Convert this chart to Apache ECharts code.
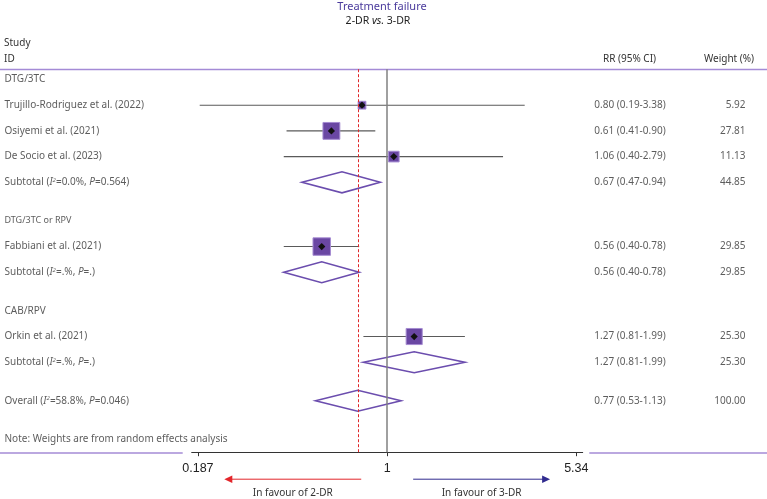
<!DOCTYPE html>
<html><head><meta charset="utf-8">
<script src="https://cdn.jsdelivr.net/npm/echarts@6/dist/echarts.min.js"></script>
<style>html,body{margin:0;padding:0;background:#fff}#c{width:767px;height:499px}</style>
</head><body><div id="c"></div>
<script>
// ---------- data ----------
const rowLabels = [
  'DTG/3TC',
  'Trujillo-Rodriguez et al. (2022)',
  'Osiyemi et al. (2021)',
  'De Socio et al. (2023)',
  'Subtotal (I²=0.0%, P=0.564)',
  'DTG/3TC or RPV',
  'Fabbiani et al. (2021)',
  'Subtotal (I²=.%, P=.)',
  'CAB/RPV',
  'Orkin et al. (2021)',
  'Subtotal (I²=.%, P=.)',
  'Overall (I²=58.8%, P=0.046)',
  'Note: Weights are from random effects analysis'
];
const rowTypes = ['group','study','study','study','subtotal','group2','study','subtotal','group','study','subtotal','overall','note'];
const rr      = [null, 0.80, 0.61, 1.06, 0.67, null, 0.56, 0.56, null, 1.27, 1.27, 0.77, null];
const ciLow   = [null, 0.19, 0.41, 0.40, 0.47, null, 0.40, 0.40, null, 0.81, 0.81, 0.53, null];
const ciHigh  = [null, 3.38, 0.90, 2.79, 0.94, null, 0.78, 0.78, null, 1.99, 1.99, 1.13, null];
const weights = [null, 5.92, 27.81, 11.13, 44.85, null, 29.85, 29.85, null, 25.30, 25.30, 100.00, null];
const tickValues = [0.187, 1, 5.34];
const xRange = [0.177, 5.65];
const titleText = 'Treatment failure';
const subtitleText = '2-DR {i|vs.} 3-DR';
const headers = {study: 'Study', id: 'ID', rr: 'RR (95% CI)', weight: 'Weight (%)'};
const favourLabels = ['In favour of 2-DR', 'In favour of 3-DR'];

// ---------- layout ----------
const FONT = '"Noto Sans", Roboto, sans-serif';
const TXT = '#333';
const PURPLE = '#6b4dae';
const LINEP = '#a48bd6';
const yMin = -0.4, yMax = 14.5;
const gridTop = 69.2, gridBottom = 46.8;

// row slots: one unit per row, half-row gap after subtotals / overall
const yIdx = [];
(function(){ let y = 0; rowTypes.forEach(t => { yIdx.push(y); y += (t === 'subtotal' || t === 'overall') ? 1.5 : 1; }); })();

const ln = Math.log;
function richLabel(s){
  return s.replace('I²', '{i|I}{s|2}').replace('P=', '{i|P}=');
}

const yAxes = [0,1,2,3].map(g => ({gridIndex: g, type: 'value', min: yMin, max: yMax, inverse: true, show: false}));
const grids = [
  {left: 4, width: 180, top: gridTop, bottom: gridBottom},
  {left: 191.7, right: 184.3, top: gridTop, bottom: gridBottom},
  {left: 590, width: 80, top: gridTop, bottom: gridBottom},
  {left: 700, width: 46, top: gridTop, bottom: gridBottom}
];
const hiddenX = g => ({gridIndex: g, type: 'value', min: 0, max: 1, show: false});

const studyIdx = rowTypes.map((t,i)=>t==='study'?i:-1).filter(i=>i>=0);
const pooledIdx = rowTypes.map((t,i)=>(t==='subtotal'||t==='overall')?i:-1).filter(i=>i>=0);
const valIdx = rr.map((v,i)=>v==null?-1:i).filter(i=>i>=0);
const overallIdx = rowTypes.indexOf('overall');

const richStyles = {
  i: {fontStyle: 'italic', fontSize: 10, fontFamily: FONT, color: TXT},
  s: {fontStyle: 'italic', fontSize: 6, fontFamily: FONT, color: TXT, verticalAlign: 'top'}
};

const option = {
  animation: false,
  grid: grids,
  xAxis: [
    hiddenX(0),
    {
      gridIndex: 1, type: 'value', min: ln(xRange[0]), max: ln(xRange[1]),
      splitLine: {show: false},
      axisLine: {show: true, onZero: false, lineStyle: {color: '#333', width: 1}},
      axisTick: {show: true, customValues: tickValues.map(ln), length: 4, lineStyle: {color: '#333'}},
      axisLabel: {
        show: true, customValues: tickValues.map(ln), margin: 10,
        fontSize: 12.5, color: '#222', fontFamily: '"Liberation Sans", Arial, sans-serif',
        formatter: v => String(Number(Math.exp(v).toPrecision(3)))
      }
    },
    hiddenX(2), hiddenX(3)
  ],
  yAxis: yAxes,
  series: [
    // row labels
    {
      type: 'scatter', xAxisIndex: 0, yAxisIndex: 0, silent: true, symbolSize: 1,
      itemStyle: {color: 'rgba(0,0,0,0)'},
      data: rowLabels.map((l,i) => ({
        value: [0, yIdx[i]],
        label: rowTypes[i] === 'group2' ? {fontSize: 9} : {}
      })),
      label: {
        show: true, position: 'right', distance: 0, fontSize: 10, fontFamily: FONT, color: TXT,
        formatter: p => richLabel(rowLabels[p.dataIndex]), rich: richStyles
      }
    },
    // RR column
    {
      type: 'scatter', xAxisIndex: 2, yAxisIndex: 2, silent: true, symbolSize: 1,
      itemStyle: {color: 'rgba(0,0,0,0)'},
      data: valIdx.map(i => [0.5, yIdx[i], i]),
      label: {
        show: true, position: 'inside', fontSize: 10, fontFamily: FONT, color: TXT,
        formatter: p => { const i = p.value[2]; return rr[i].toFixed(2) + ' (' + ciLow[i].toFixed(2) + '-' + ciHigh[i].toFixed(2) + ')'; }
      }
    },
    // weight column
    {
      type: 'scatter', xAxisIndex: 3, yAxisIndex: 3, silent: true, symbolSize: 1,
      itemStyle: {color: 'rgba(0,0,0,0)'},
      data: valIdx.map(i => [1, yIdx[i], i]),
      label: {
        show: true, position: 'left', distance: 0, fontSize: 10, fontFamily: FONT, color: TXT,
        formatter: p => weights[p.value[2]].toFixed(2)
      }
    },
    // reference lines
    {
      type: 'line', xAxisIndex: 1, yAxisIndex: 1, data: [], silent: true, z: 1,
      markLine: {
        silent: true, symbol: ['none','none'], label: {show: false}, animation: false,
        data: [
          {xAxis: 0, lineStyle: {color: '#808080', width: 1.5, type: 'solid'}},
          {xAxis: ln(rr[overallIdx]), lineStyle: {color: '#e0282a', width: 1, type: [3, 2]}}
        ]
      }
    },
    // studies: CI line + weighted square + point
    {
      type: 'custom', xAxisIndex: 1, yAxisIndex: 1, silent: true, z: 3,
      data: studyIdx.map(i => [ln(ciLow[i]), ln(ciHigh[i]), ln(rr[i]), yIdx[i], weights[i]]),
      renderItem: (params, api) => {
        const y = api.value(3);
        const a = api.coord([api.value(0), y]);
        const b = api.coord([api.value(1), y]);
        const c = api.coord([api.value(2), y]);
        const s = 3.2 * Math.sqrt(api.value(4));
        const d = 3.6;
        return {type: 'group', children: [
          {type: 'line', shape: {x1: a[0], y1: a[1], x2: b[0], y2: b[1]}, style: {stroke: '#5a5a5a', lineWidth: 1.1}},
          {type: 'rect', shape: {x: c[0]-s/2, y: c[1]-s/2, width: s, height: s}, style: {fill: '#6a47a3', stroke: '#a68cd2', lineWidth: 1}},
          {type: 'polygon', shape: {points: [[c[0]-d, c[1]], [c[0], c[1]-d], [c[0]+d, c[1]], [c[0], c[1]+d]]}, style: {fill: '#111'}}
        ]};
      }
    },
    // pooled diamonds
    {
      type: 'custom', xAxisIndex: 1, yAxisIndex: 1, silent: true, z: 3,
      data: pooledIdx.map(i => [ln(ciLow[i]), ln(ciHigh[i]), ln(rr[i]), yIdx[i]]),
      renderItem: (params, api) => {
        const y = api.value(3);
        const a = api.coord([api.value(0), y]);
        const b = api.coord([api.value(1), y]);
        const c = api.coord([api.value(2), y]);
        const h = 10.5;
        return {type: 'polygon', shape: {points: [[a[0], a[1]], [c[0], c[1]-h], [b[0], b[1]], [c[0], c[1]+h]]},
          style: {fill: 'none', stroke: PURPLE, lineWidth: 1.6}};
      }
    }
  ]
};

const chart = echarts.init(document.getElementById('c'), null, {renderer: 'canvas'});
chart.setOption(option);

// ---------- annotations ----------
const axisY = chart.convertToPixel({yAxisIndex: 1}, yMax);
const px = v => chart.convertToPixel({xAxisIndex: 1}, v);
const arrowSpec = [
  {from: -0.23, to: -1.443, color: '#e3262b', text: favourLabels[0]},
  {from: 0.23, to: 1.443, color: '#302b8f', text: favourLabels[1]}
];
const g = [];
function txt(text, x, y, align, opts){
  return Object.assign({type: 'text', x: x, y: y, silent: true,
    style: Object.assign({text: text, font: '10px ' + FONT, fill: TXT, align: align, verticalAlign: 'middle', textAlign: align, textVerticalAlign: 'middle'}, opts || {})});
}
arrowSpec.forEach(a => {
  const x1 = px(a.from), x2 = px(a.to), y = axisY + 27;
  const dir = Math.sign(x2 - x1);
  g.push({type: 'line', silent: true, shape: {x1: x1, y1: y, x2: x2 - dir*6, y2: y}, style: {stroke: a.color, lineWidth: 1}});
  g.push({type: 'polygon', silent: true, shape: {points: [[x2, y], [x2 - dir*8, y - 3.8], [x2 - dir*8, y + 3.8]]}, style: {fill: a.color}});
  g.push(txt(a.text, (x1 + x2) / 2, axisY + 41, 'center'));
});
g.push(txt(titleText, 382, 7, 'center', {font: '11px ' + FONT, fill: '#4a3a9c'}));
g.push(txt(subtitleText, 378, 21, 'center', {font: '10.5px ' + FONT, fill: '#222', rich: {i: {fontStyle: 'italic', fontSize: 10.5, fontFamily: FONT, fill: '#222', color: '#222'}}}));
g.push(txt(headers.study, 4, 43.3, 'left'));
g.push(txt(headers.id, 4, 59.3, 'left'));
g.push(txt(headers.rr, 629.5, 59.3, 'center'));
g.push(txt(headers.weight, 729, 59.3, 'center'));
g.push({type: 'line', silent: true, shape: {x1: 0, y1: 69.5, x2: 767, y2: 69.5}, style: {stroke: LINEP, lineWidth: 1.5}});
g.push({type: 'line', silent: true, shape: {x1: 0, y1: axisY + 0.8, x2: 182.7, y2: axisY + 0.8}, style: {stroke: LINEP, lineWidth: 1.5}});
g.push({type: 'line', silent: true, shape: {x1: 589.3, y1: axisY + 0.8, x2: 767, y2: axisY + 0.8}, style: {stroke: LINEP, lineWidth: 1.5}});
chart.setOption({graphic: {elements: g}});
</script>
</body></html>
